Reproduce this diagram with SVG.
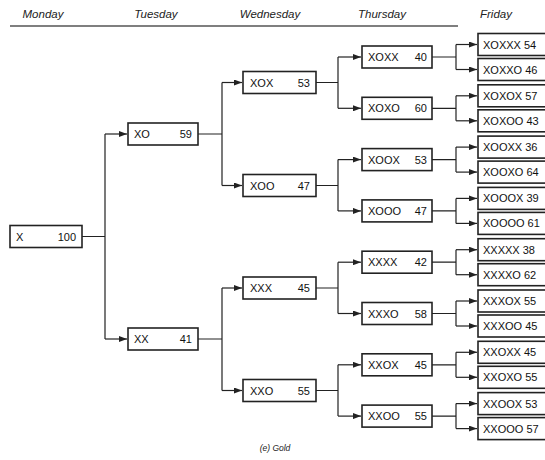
<svg xmlns="http://www.w3.org/2000/svg" width="545" height="460" viewBox="0 0 545 460">
<style>
.hd{font-family:"Liberation Sans",Arial,sans-serif;font-style:italic;font-size:11.5px;fill:#222;text-anchor:middle}
.bx{fill:#fff;stroke:#222;stroke-width:1.6}
.t{font-family:"Liberation Sans",Arial,sans-serif;font-size:11px;fill:#111}
.n{font-family:"Liberation Sans",Arial,sans-serif;font-size:11px;fill:#111;text-anchor:end}
.c{fill:none;stroke:#222;stroke-width:1.2}
</style>
<defs>
<marker id="ar" markerUnits="userSpaceOnUse" markerWidth="8" markerHeight="6" refX="8" refY="3" orient="auto">
<path d="M0,0 L8,3 L0,6 z" fill="#222"/>
</marker>
</defs>
<rect width="545" height="460" fill="#fff"/>
<g id="header">
<text class="hd" x="43" y="18">Monday</text>
<text class="hd" x="156" y="18">Tuesday</text>
<text class="hd" x="270" y="18">Wednesday</text>
<text class="hd" x="382" y="18">Thursday</text>
<text class="hd" x="496" y="18">Friday</text>
<line x1="10" y1="26" x2="458" y2="26" stroke="#555" stroke-width="1.5"/>
</g>
<g id="connectors">
<path class="c" d="M82,236.5 H105 M105,134 V339"/>
<path class="c" d="M105,134 H127" marker-end="url(#ar)"/>
<path class="c" d="M105,339 H127" marker-end="url(#ar)"/>
<path class="c" d="M198,134 H222 V82.5 M222,134 V185.5"/>
<path class="c" d="M222,82.5 H242" marker-end="url(#ar)"/>
<path class="c" d="M222,185.5 H242" marker-end="url(#ar)"/>
<path class="c" d="M198,339 H222 V288 M222,339 V390.5"/>
<path class="c" d="M222,288 H242" marker-end="url(#ar)"/>
<path class="c" d="M222,390.5 H242" marker-end="url(#ar)"/>
<path class="c" d="M316,82.5 H338 V57 M338,82.5 V108.3"/>
<path class="c" d="M338,57 H361" marker-end="url(#ar)"/>
<path class="c" d="M338,108.3 H361" marker-end="url(#ar)"/>
<path class="c" d="M316,185.5 H338 V159.6 M338,185.5 V210.9"/>
<path class="c" d="M338,159.6 H361" marker-end="url(#ar)"/>
<path class="c" d="M338,210.9 H361" marker-end="url(#ar)"/>
<path class="c" d="M316,288 H338 V262.2 M338,288 V313.5"/>
<path class="c" d="M338,262.2 H361" marker-end="url(#ar)"/>
<path class="c" d="M338,313.5 H361" marker-end="url(#ar)"/>
<path class="c" d="M316,390.5 H338 V364.8 M338,390.5 V416.1"/>
<path class="c" d="M338,364.8 H361" marker-end="url(#ar)"/>
<path class="c" d="M338,416.1 H361" marker-end="url(#ar)"/>
<path class="c" d="M432,57 H456 V44.5 M456,57 V69.5"/>
<path class="c" d="M456,44.5 H477" marker-end="url(#ar)"/>
<path class="c" d="M456,69.5 H477" marker-end="url(#ar)"/>
<path class="c" d="M432,108.3 H456 V95.8 M456,108.3 V120.8"/>
<path class="c" d="M456,95.8 H477" marker-end="url(#ar)"/>
<path class="c" d="M456,120.8 H477" marker-end="url(#ar)"/>
<path class="c" d="M432,159.6 H456 V147.1 M456,159.6 V172.1"/>
<path class="c" d="M456,147.1 H477" marker-end="url(#ar)"/>
<path class="c" d="M456,172.1 H477" marker-end="url(#ar)"/>
<path class="c" d="M432,210.9 H456 V198.4 M456,210.9 V223.4"/>
<path class="c" d="M456,198.4 H477" marker-end="url(#ar)"/>
<path class="c" d="M456,223.4 H477" marker-end="url(#ar)"/>
<path class="c" d="M432,262.2 H456 V249.7 M456,262.2 V274.7"/>
<path class="c" d="M456,249.7 H477" marker-end="url(#ar)"/>
<path class="c" d="M456,274.7 H477" marker-end="url(#ar)"/>
<path class="c" d="M432,313.5 H456 V301 M456,313.5 V326"/>
<path class="c" d="M456,301 H477" marker-end="url(#ar)"/>
<path class="c" d="M456,326 H477" marker-end="url(#ar)"/>
<path class="c" d="M432,364.8 H456 V352.3 M456,364.8 V377.3"/>
<path class="c" d="M456,352.3 H477" marker-end="url(#ar)"/>
<path class="c" d="M456,377.3 H477" marker-end="url(#ar)"/>
<path class="c" d="M432,416.1 H456 V403.6 M456,416.1 V428.6"/>
<path class="c" d="M456,403.6 H477" marker-end="url(#ar)"/>
<path class="c" d="M456,428.6 H477" marker-end="url(#ar)"/>
</g>
<g id="n-X"><rect class="bx" x="10" y="225.5" width="72" height="22"/><text class="t" x="16" y="240.5">X</text><text class="n" x="76" y="240.5">100</text></g>
<g id="n-XO"><rect class="bx" x="128" y="123" width="70" height="22"/><text class="t" x="134" y="138">XO</text><text class="n" x="192" y="138">59</text></g>
<g id="n-XX"><rect class="bx" x="128" y="328" width="70" height="22"/><text class="t" x="134" y="343">XX</text><text class="n" x="192" y="343">41</text></g>
<g id="n-XOX"><rect class="bx" x="243" y="71.5" width="73" height="22"/><text class="t" x="250" y="86.5">XOX</text><text class="n" x="310" y="86.5">53</text></g>
<g id="n-XOO"><rect class="bx" x="243" y="174.5" width="73" height="22"/><text class="t" x="250" y="189.5">XOO</text><text class="n" x="310" y="189.5">47</text></g>
<g id="n-XXX"><rect class="bx" x="243" y="277" width="73" height="22"/><text class="t" x="250" y="292">XXX</text><text class="n" x="310" y="292">45</text></g>
<g id="n-XXO"><rect class="bx" x="243" y="379.5" width="73" height="22"/><text class="t" x="250" y="394.5">XXO</text><text class="n" x="310" y="394.5">55</text></g>
<g id="n-XOXX"><rect class="bx" x="362" y="46" width="70" height="22"/><text class="t" x="368" y="61">XOXX</text><text class="n" x="427" y="61">40</text></g>
<g id="n-XOXO"><rect class="bx" x="362" y="97.3" width="70" height="22"/><text class="t" x="368" y="112.3">XOXO</text><text class="n" x="427" y="112.3">60</text></g>
<g id="n-XOOX"><rect class="bx" x="362" y="148.6" width="70" height="22"/><text class="t" x="368" y="163.6">XOOX</text><text class="n" x="427" y="163.6">53</text></g>
<g id="n-XOOO"><rect class="bx" x="362" y="199.9" width="70" height="22"/><text class="t" x="368" y="214.9">XOOO</text><text class="n" x="427" y="214.9">47</text></g>
<g id="n-XXXX"><rect class="bx" x="362" y="251.2" width="70" height="22"/><text class="t" x="368" y="266.2">XXXX</text><text class="n" x="427" y="266.2">42</text></g>
<g id="n-XXXO"><rect class="bx" x="362" y="302.5" width="70" height="22"/><text class="t" x="368" y="317.5">XXXO</text><text class="n" x="427" y="317.5">58</text></g>
<g id="n-XXOX"><rect class="bx" x="362" y="353.8" width="70" height="22"/><text class="t" x="368" y="368.8">XXOX</text><text class="n" x="427" y="368.8">45</text></g>
<g id="n-XXOO"><rect class="bx" x="362" y="405.1" width="70" height="22"/><text class="t" x="368" y="420.1">XXOO</text><text class="n" x="427" y="420.1">55</text></g>
<g id="n-XOXXX"><rect class="bx" x="478" y="33.5" width="72" height="22"/><text class="t" x="483" y="48.5">XOXXX 54</text></g>
<g id="n-XOXXO"><rect class="bx" x="478" y="58.5" width="72" height="22"/><text class="t" x="483" y="73.5">XOXXO 46</text></g>
<g id="n-XOXOX"><rect class="bx" x="478" y="84.8" width="72" height="22"/><text class="t" x="483" y="99.8">XOXOX 57</text></g>
<g id="n-XOXOO"><rect class="bx" x="478" y="109.8" width="72" height="22"/><text class="t" x="483" y="124.8">XOXOO 43</text></g>
<g id="n-XOOXX"><rect class="bx" x="478" y="136.1" width="72" height="22"/><text class="t" x="483" y="151.1">XOOXX 36</text></g>
<g id="n-XOOXO"><rect class="bx" x="478" y="161.1" width="72" height="22"/><text class="t" x="483" y="176.1">XOOXO 64</text></g>
<g id="n-XOOOX"><rect class="bx" x="478" y="187.4" width="72" height="22"/><text class="t" x="483" y="202.4">XOOOX 39</text></g>
<g id="n-XOOOO"><rect class="bx" x="478" y="212.4" width="72" height="22"/><text class="t" x="483" y="227.4">XOOOO 61</text></g>
<g id="n-XXXXX"><rect class="bx" x="478" y="238.7" width="72" height="22"/><text class="t" x="483" y="253.7">XXXXX 38</text></g>
<g id="n-XXXXO"><rect class="bx" x="478" y="263.7" width="72" height="22"/><text class="t" x="483" y="278.7">XXXXO 62</text></g>
<g id="n-XXXOX"><rect class="bx" x="478" y="290" width="72" height="22"/><text class="t" x="483" y="305">XXXOX 55</text></g>
<g id="n-XXXOO"><rect class="bx" x="478" y="315" width="72" height="22"/><text class="t" x="483" y="330">XXXOO 45</text></g>
<g id="n-XXOXX"><rect class="bx" x="478" y="341.3" width="72" height="22"/><text class="t" x="483" y="356.3">XXOXX 45</text></g>
<g id="n-XXOXO"><rect class="bx" x="478" y="366.3" width="72" height="22"/><text class="t" x="483" y="381.3">XXOXO 55</text></g>
<g id="n-XXOOX"><rect class="bx" x="478" y="392.6" width="72" height="22"/><text class="t" x="483" y="407.6">XXOOX 53</text></g>
<g id="n-XXOOO"><rect class="bx" x="478" y="417.6" width="72" height="22"/><text class="t" x="483" y="432.6">XXOOO 57</text></g>
<text x="275" y="451" font-family="Liberation Sans,Arial,sans-serif" font-style="italic" font-size="8.5" fill="#222" text-anchor="middle">(e) Gold</text>
</svg>
